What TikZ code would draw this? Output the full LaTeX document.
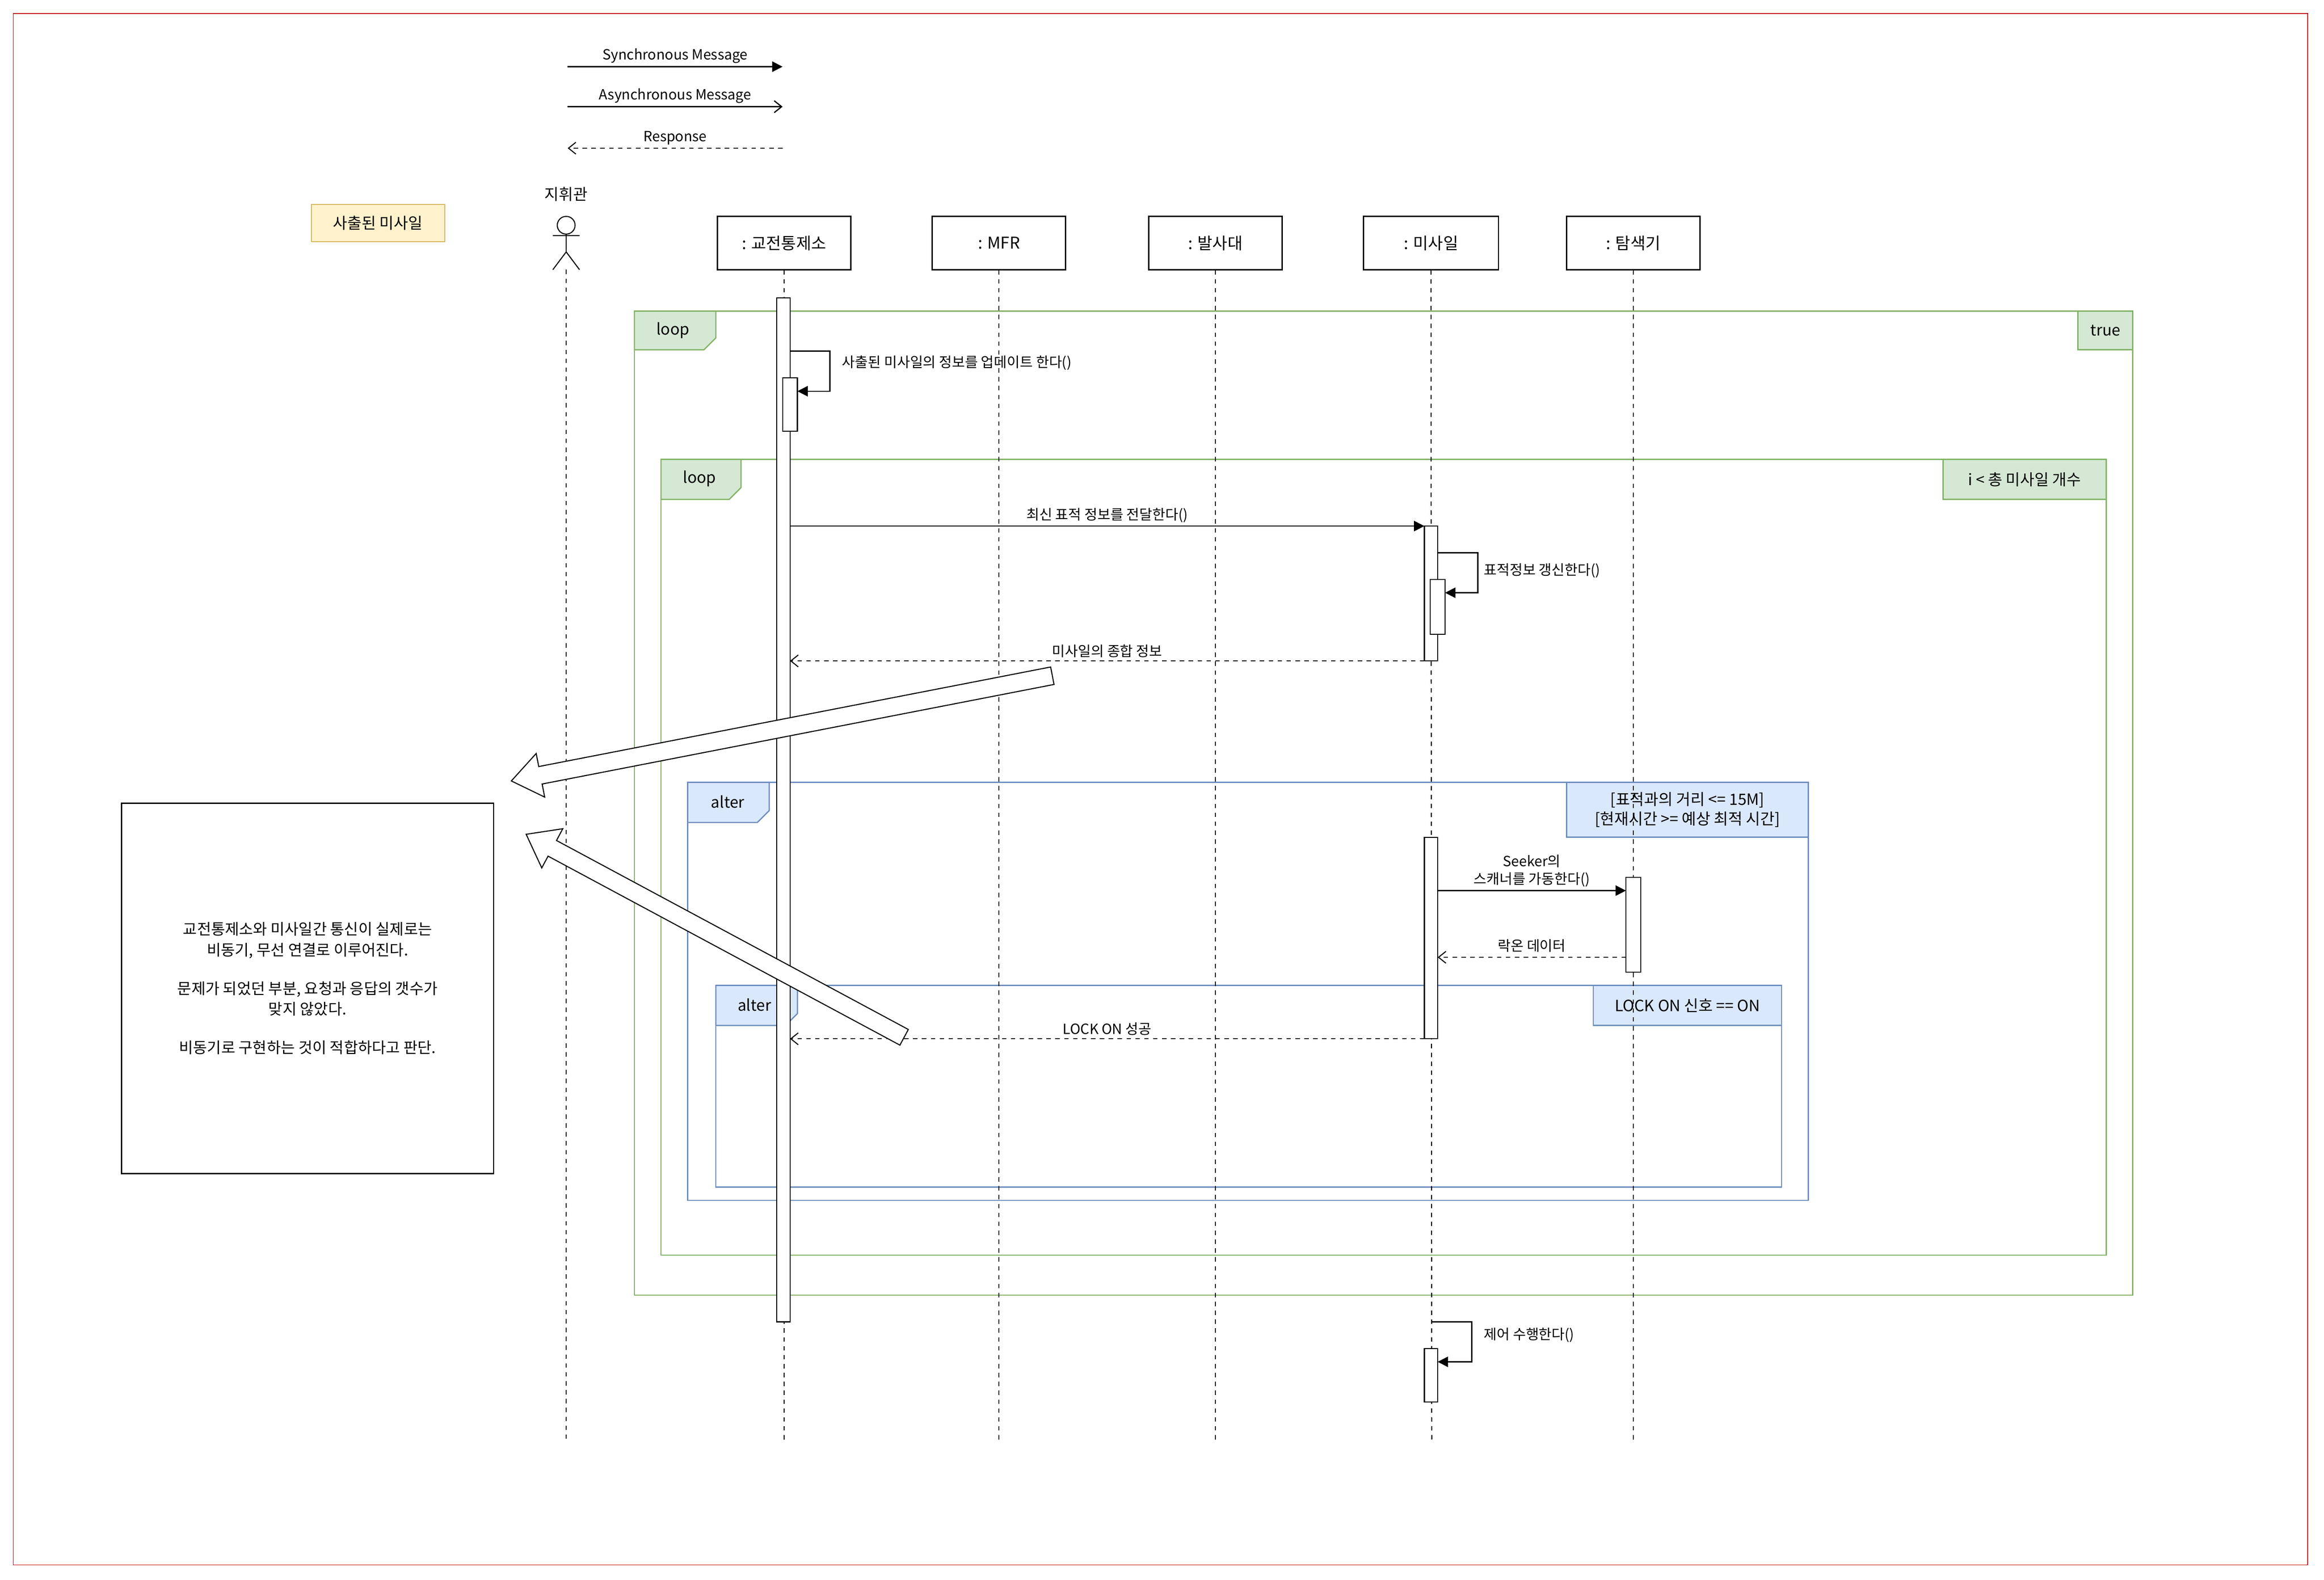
\documentclass[tikz,border=0pt]{standalone}
\usepackage{fontspec}
\setmainfont{Noto Sans CJK KR}
\usetikzlibrary{arrows.meta,calc}
\definecolor{gline}{HTML}{82B366}\definecolor{gfill}{HTML}{D5E8D4}
\definecolor{bline}{HTML}{6C8EBF}\definecolor{bfill}{HTML}{DAE8FC}
\definecolor{yline}{HTML}{D6B656}\definecolor{yfill}{HTML}{FFF2CC}
\tikzset{
 lbl/.style={font=\fontsize{9.5}{11}\selectfont,inner sep=1pt},
 flbl/.style={font=\fontsize{10.5}{12}\selectfont,inner sep=1pt},
 part/.style={draw,line width=0.8pt,minimum width=90pt,minimum height=36pt,font=\fontsize{11}{13}\selectfont},
 life/.style={dash pattern=on 3pt off 3pt,line width=0.7pt},
 act/.style={draw,fill=white,line width=0.7pt},
 sync/.style={line width=0.8pt,-{Triangle[length=7pt,width=7pt]}},
 async/.style={line width=0.8pt,-{Straight Barb[length=5pt,width=8pt]}},
 resp/.style={line width=0.7pt,dash pattern=on 3pt off 3pt,-{Straight Barb[length=5pt,width=8pt]}},
 blk/.style={draw,fill=white,line width=0.7pt,line join=miter},
}
\begin{document}
\begin{tikzpicture}[x=1pt,y=-1pt]
\useasboundingbox (0,0) rectangle (1568,1066);
\draw[red!75!black,line width=0.5pt] (9,9) rectangle (1557,1056);
% legend
\coordinate (l1a) at (383,45); \coordinate (l1b) at (528,45);
\coordinate (l2a) at (383,72); \coordinate (l2b) at (528,72);
\coordinate (l3a) at (383,100); \coordinate (l3b) at (528,100);
\draw[sync] (l1a) -- node[lbl,above=1pt] (t1) {Synchronous Message} (l1b);
\draw[async] (l2a) -- node[lbl,above=1pt] (t2) {Asynchronous Message} (l2b);
\draw[resp] (l3b) -- node[lbl,above=1pt] (t3) {Response} (l3a);
% frames
\draw[gline,line width=0.8pt] (428,210) rectangle (1439,874);
\draw[gline,fill=gfill,line width=0.8pt] (428,210) -- (483,210) -- (483,228) -- (475,236) -- (428,236) -- cycle;
\node[flbl] (lp1) at (454,223) {loop};
\node[draw=gline,fill=gfill,line width=0.8pt,minimum width=37pt,minimum height=26pt,inner sep=0pt,flbl] (tr) at (1420.5,223) {true};
\draw[gline,line width=0.8pt] (446,310) rectangle (1421,847);
\draw[gline,fill=gfill,line width=0.8pt] (446,310) -- (500,310) -- (500,329) -- (492,337) -- (446,337) -- cycle;
\node[flbl] (lp2) at (472,323) {loop};
\node[draw=gline,fill=gfill,line width=0.8pt,minimum width=110pt,minimum height=27pt,inner sep=0pt,flbl] (cnd1) at (1366,323.5) {i < 총 미사일 개수};
\draw[bline,line width=0.8pt] (464,528) rectangle (1220,810);
\draw[bline,fill=bfill,line width=0.8pt] (464,528) -- (519,528) -- (519,547) -- (511,555) -- (464,555) -- cycle;
\node[flbl] (al1) at (491,541) {alter};
\node[draw=bline,fill=bfill,line width=0.8pt,minimum width=163pt,minimum height=37pt,inner sep=0pt,align=center,font=\fontsize{10.5}{13}\selectfont] (cnd2) at (1138.5,546.5) {[표적과의 거리 <= 15M]\\{}[현재시간 >= 예상 최적 시간]};
\draw[bline,line width=0.8pt] (483,665) rectangle (1202,801);
\draw[bline,fill=bfill,line width=0.8pt] (483,665) -- (538,665) -- (538,684) -- (530,692) -- (483,692) -- cycle;
\node[flbl] (al2) at (509,678) {alter};
\node[draw=bline,fill=bfill,line width=0.8pt,minimum width=127pt,minimum height=27pt,inner sep=0pt,flbl] (cnd3) at (1138.5,678.5) {LOCK ON 신호 == ON};
% note
\node[draw=yline,fill=yfill,line width=0.7pt,minimum width=90pt,minimum height=25pt,flbl] (nt) at (255,150.5) {사출된 미사일};
% participants
\node[part] (p1) at (529,164) {: 교전통제소};
\node[part] (p2) at (674,164) {: MFR};
\node[part] (p3) at (820,164) {: 발사대};
\node[part,minimum width=91pt] (p4) at (965.5,164) {: 미사일};
\node[part] (p5) at (1102,164) {: 탐색기};
\foreach \n/\x in {p1/529,p2/674,p3/820,p4/966,p5/1102}{
  \coordinate (\n e) at (\x,974);
  \draw[life] (\n.south) -- (\n e);}
% actor
\node[flbl] (actl) at (382,131) {지휘관};
\node[draw,circle,minimum size=12pt,inner sep=0pt,line width=0.7pt] (head) at (382,152) {};
\coordinate (foot) at (382,972);
\draw[line width=0.7pt] (head.south) -- (382,170) (373,159) -- (391,159) (373,182) -- (382,170) -- (391,182);
\draw[life] (382,182) -- (foot);
% activations
\draw[act] (524,201) rectangle (533,892);
\draw[act] (528,255) rectangle (538,291);
\draw[act] (961,355) rectangle (970,446);
\draw[act] (965,391) rectangle (975,428);
\draw[act] (961,565) rectangle (970,701);
\draw[act] (1097,592) rectangle (1107,656);
\draw[act] (961,910) rectangle (970,946);
% messages
\coordinate (s1a) at (533,237); \coordinate (s1b) at (538,264);
\draw[sync] (s1a) -- (560,237) -- (560,264) -- (s1b);
\node[lbl,anchor=west] (s1t) at (567,245) {사출된 미사일의 정보를 업데이트 한다()};
\coordinate (m1a) at (533,355); \coordinate (m1b) at (961,355);
\draw[sync] (m1a) -- node[lbl,above=1pt] (m1t) {최신 표적 정보를 전달한다()} (m1b);
\coordinate (s2a) at (970,373); \coordinate (s2b) at (975,400);
\draw[sync] (s2a) -- (997,373) -- (997,400) -- (s2b);
\node[lbl,anchor=west] (s2t) at (1000,385) {표적정보 갱신한다()};
\coordinate (r1a) at (961,446); \coordinate (r1b) at (533,446);
\draw[resp] (r1a) -- node[lbl,above=1pt] (r1t) {미사일의 종합 정보} (r1b);
\coordinate (m2a) at (970,601); \coordinate (m2b) at (1097,601);
\draw[sync] (m2a) -- node[lbl,above=1pt,align=center,font=\fontsize{9.5}{12}\selectfont] (m2t) {Seeker의\\스캐너를 가동한다()} (m2b);
\coordinate (r2a) at (1097,646); \coordinate (r2b) at (970,646);
\draw[resp] (r2a) -- node[lbl,above=2pt] (r2t) {락온 데이터} (r2b);
\coordinate (r3a) at (961,701); \coordinate (r3b) at (533,701);
\draw[resp] (r3a) -- node[lbl,above=1pt] (r3t) {LOCK ON 성공} (r3b);
\coordinate (s3a) at (966,892); \coordinate (s3b) at (970,919);
\draw[sync] (s3a) -- (993,892) -- (993,919) -- (s3b);
\node[lbl,anchor=west] (s3t) at (1000,901) {제어 수행한다()};
% block arrows
\coordinate (ta) at (710,456); \coordinate (pa) at (345,527);
\coordinate (ha) at ($(pa)!20pt!(ta)$);
\draw[blk] ($(ta)!6pt!90:(pa)$) -- ($(ha)!6pt!-90:(ta)$) -- ($(ha)!15pt!-90:(ta)$) -- (pa)
    -- ($(ha)!15pt!90:(ta)$) -- ($(ha)!6pt!90:(ta)$) -- ($(ta)!6pt!-90:(pa)$) -- cycle;
\coordinate (tb) at (610,700); \coordinate (pb) at (355,563);
\coordinate (hb) at ($(pb)!20pt!(tb)$);
\draw[blk] ($(tb)!6pt!90:(pb)$) -- ($(hb)!6pt!-90:(tb)$) -- ($(hb)!15pt!-90:(tb)$) -- (pb)
    -- ($(hb)!15pt!90:(tb)$) -- ($(hb)!6pt!90:(tb)$) -- ($(tb)!6pt!-90:(pb)$) -- cycle;
% comment box
\node[draw,line width=0.8pt,minimum width=251pt,minimum height=250pt,align=center,font=\fontsize{10.3}{14}\selectfont] (cm) at (207.5,667) {교전통제소와 미사일간 통신이 실제로는\\비동기, 무선 연결로 이루어진다.\\[12pt]문제가 되었던 부분, 요청과 응답의 갯수가\\맞지 않았다.\\[12pt]비동기로 구현하는 것이 적합하다고 판단.};
\end{tikzpicture}
\end{document}
